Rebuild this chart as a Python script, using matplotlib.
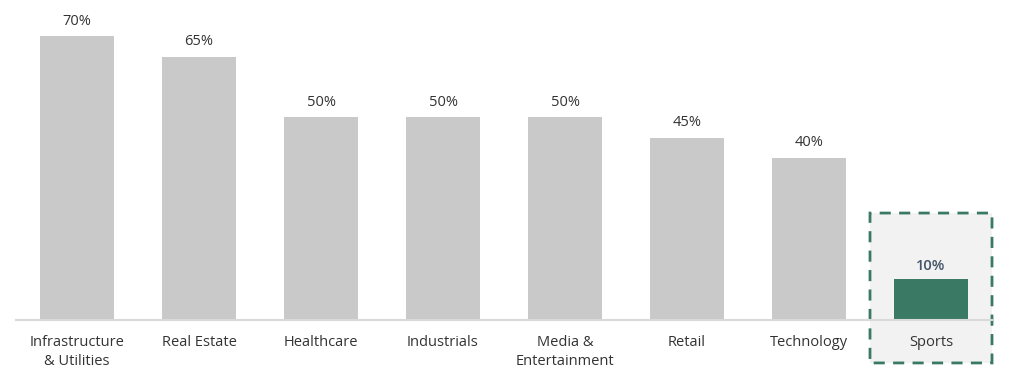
import matplotlib.pyplot as plt
from matplotlib.patches import FancyBboxPatch

# data
categories = ['Infrastructure\n& Utilities', 'Real Estate', 'Healthcare', 'Industrials',
              'Media &\nEntertainment', 'Retail', 'Technology', 'Sports']
values = [70, 65, 50, 50, 50, 45, 40, 10]

plt.rcParams['font.family'] = ['Open Sans', 'DejaVu Sans']

fig = plt.figure(figsize=(10.24, 3.79), dpi=100)
ax = fig.add_axes([16 / 1024, 59 / 379, 976 / 1024, 316 / 379])

x = list(range(len(categories)))
colors = ['#c9c9c9'] * (len(values) - 1) + ['#3a7a64']

# highlight box behind the last bar
box = FancyBboxPatch((6.5, -10.6), 1.0, 37.0, boxstyle='round,pad=0,rounding_size=0.03',
                     mutation_aspect=4.057 / 122.1, transform=ax.transData,
                     facecolor='#f2f2f2', edgecolor='#3a7a64', linewidth=2,
                     linestyle=(0, (4, 3)), clip_on=False, zorder=0)
ax.add_patch(box)

ax.bar(x, values, width=0.6, color=colors, zorder=2)

for i, v in enumerate(values):
    if i == len(values) - 1:
        ax.text(i, v + 1.6, f'{v}%', ha='center', va='bottom', fontsize=10.5,
                color='#44546a', fontweight='semibold')
    else:
        ax.text(i, v + 1.9, f'{v}%', ha='center', va='bottom', fontsize=10.5, color='#333333')

ax.set_xlim(-0.5, 7.5)
ax.set_ylim(0, 78)
ax.set_xticks(x)
ax.set_xticklabels(categories, fontsize=10.5, color='#333333', linespacing=1.3)
ax.tick_params(axis='x', length=0, pad=11)
ax.set_yticks([])
for s in ['top', 'right', 'left']:
    ax.spines[s].set_visible(False)
ax.spines['bottom'].set_color('#d9d9d9')
ax.spines['bottom'].set_linewidth(1.5)
ax.spines['bottom'].set_zorder(3)
ax.patch.set_visible(False)

fig.savefig('out.png', dpi=100)
